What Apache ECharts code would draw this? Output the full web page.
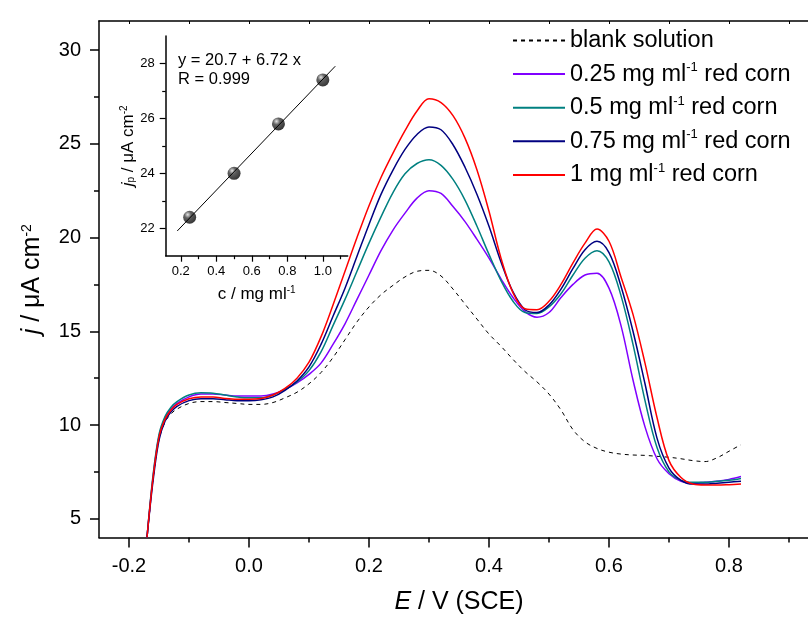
<!DOCTYPE html>
<html>
<head>
<meta charset="utf-8">
<script src="https://cdn.jsdelivr.net/npm/echarts@6/dist/echarts.min.js"></script>
<style>
  html, body { margin: 0; padding: 0; background: #fff; }
  #chart { width: 808px; height: 618px; }
</style>
</head>
<body>
<div id="chart"></div>
<script>
// potential (V vs SCE)
const potential = [-0.17, -0.16, -0.15, -0.14, -0.13, -0.12, -0.10, -0.08, -0.06, -0.04, -0.02, 0.00,
  0.02, 0.04, 0.06, 0.08, 0.10, 0.12, 0.14, 0.16, 0.18, 0.20, 0.22, 0.24, 0.26, 0.28, 0.30, 0.32,
  0.34, 0.36, 0.38, 0.40, 0.42, 0.44, 0.46, 0.48, 0.50, 0.52, 0.54, 0.56, 0.58, 0.60, 0.62, 0.64,
  0.66, 0.68, 0.70, 0.72, 0.74, 0.76, 0.78, 0.80, 0.82]

// current density j / uA cm-2
const blank = [4.0, 7.0, 9.2, 10.15, 10.6, 10.85, 11.15, 11.25, 11.25, 11.2, 11.15, 11.1,
  11.1, 11.2, 11.45, 11.75, 12.2, 12.8, 13.6, 14.55, 15.5, 16.3, 16.95, 17.45, 17.9, 18.2, 18.25, 17.95,
  17.25, 16.45, 15.65, 14.85, 14.2, 13.5, 12.85, 12.3, 11.65, 10.8, 9.75, 9.1, 8.75, 8.55, 8.45, 8.4,
  8.38, 8.33, 8.28, 8.2, 8.1, 8.05, 8.25, 8.6, 8.95]
const corn025 = [4.0, 7.2, 9.4, 10.35, 10.85, 11.15, 11.5, 11.65, 11.65, 11.6, 11.55, 11.55,
  11.55, 11.65, 11.9, 12.25, 12.7, 13.3, 14.3, 15.4, 16.7, 18.0, 19.3, 20.4, 21.3, 22.1, 22.5, 22.35,
  21.65, 20.85, 19.9, 18.9, 17.8, 16.8, 16.05, 15.75, 16.0, 16.8, 17.5, 18.0, 18.1, 17.3, 15.3, 12.4,
  9.9, 8.2, 7.4, 7.0, 6.9, 6.95, 7.0, 7.1, 7.25]
const corn05 = [4.0, 7.3, 9.5, 10.45, 10.95, 11.25, 11.6, 11.72, 11.7, 11.6, 11.5, 11.45,
  11.45, 11.6, 11.9, 12.3, 12.9, 13.9, 15.3, 16.7, 18.2, 19.7, 21.1, 22.4, 23.4, 23.95, 24.15, 23.85,
  23.1, 22.0, 20.6, 19.1, 17.7, 16.6, 16.0, 15.95, 16.3, 17.0, 18.0, 18.9, 19.3, 18.7, 16.9, 14.3,
  11.3, 8.8, 7.5, 7.05, 6.95, 6.95, 7.0, 7.05, 7.15]
const corn075 = [4.0, 7.0, 9.2, 10.2, 10.7, 11.0, 11.3, 11.4, 11.4, 11.35, 11.3, 11.3,
  11.35, 11.5, 11.85, 12.35, 13.1, 14.3, 15.8, 17.3, 19.0, 20.7, 22.3, 23.6, 24.7, 25.5, 25.9, 25.75,
  24.95, 23.75, 22.3, 20.6, 18.7, 17.1, 16.15, 16.0, 16.4, 17.25, 18.35, 19.35, 19.8, 19.2, 17.4, 15.0,
  12.2, 9.3, 7.7, 7.05, 6.85, 6.85, 6.9, 6.95, 7.0]
const corn1 = [4.0, 7.15, 9.35, 10.3, 10.8, 11.1, 11.4, 11.5, 11.5, 11.42, 11.38, 11.38,
  11.42, 11.6, 11.95, 12.5, 13.35, 14.7, 16.4, 18.2, 20.0, 21.7, 23.2, 24.5, 25.7, 26.75, 27.4, 27.2,
  26.5, 25.3, 23.6, 21.4, 18.9, 17.05, 16.2, 16.15, 16.6, 17.5, 18.65, 19.7, 20.45, 19.8, 17.9, 15.9,
  13.3, 10.4, 8.1, 7.2, 6.85, 6.8, 6.8, 6.82, 6.85]

const seriesNames = ['blank solution', '0.25 mg ml-1 red corn', '0.5 mg ml-1 red corn',
  '0.75 mg ml-1 red corn', '1 mg ml-1 red corn']
const seriesColors = ['#000000', '#8000ff', '#008080', '#000080', '#ff0000']
const seriesValues = [blank, corn025, corn05, corn075, corn1]

// main axes ticks
const xMajor = [-0.2, 0.0, 0.2, 0.4, 0.6, 0.8]
const xMinor = [-0.1, 0.1, 0.3, 0.5, 0.7, 0.9]
const yMajor = [5, 10, 15, 20, 25, 30]
const yMinor = [7.5, 12.5, 17.5, 22.5, 27.5]

// inset: peak current vs concentration
const insetConc = [0.25, 0.5, 0.75, 1.0]
const insetPeak = [22.4, 24.0, 25.8, 27.4]
const fitConc = [0.18, 1.07]
const fitPeak = [21.9, 27.9]
const insetXMajor = [0.2, 0.4, 0.6, 0.8, 1.0]
const insetXMinor = [0.3, 0.5, 0.7, 0.9, 1.1]
const insetYMajor = [22, 24, 26, 28]
const insetYMinor = [23, 25, 27]

const FONT = "'Liberation Sans', Arial, sans-serif"
const axisLine = { show: true, onZero: false, lineStyle: { color: '#000', width: 1.5 } }
const noLine = { show: false, onZero: false }

let myChart = echarts.init(document.getElementById('chart'), null, { renderer: 'canvas' })

let lineSeries = seriesValues.map((vals, i) => ({
  name: seriesNames[i],
  type: 'line',
  xAxisIndex: 0,
  yAxisIndex: 0,
  symbol: 'none',
  smooth: 0.35,
  lineStyle: {
    color: seriesColors[i],
    width: i === 0 ? 1 : 1.5,
    type: i === 0 ? [4, 4] : 'solid'
  },
  itemStyle: { color: seriesColors[i] },
  data: potential.map((e, k) => [e, vals[k]])
}))

myChart.setOption({
  animation: false,
  textStyle: { fontFamily: FONT, color: '#000' },
  grid: [
    { left: 99, top: 21, width: 720, height: 516.5, containLabel: false, outerBoundsMode: 'none' },
    { left: 165.7, top: 36, width: 182, height: 219.7, containLabel: false, outerBoundsMode: 'none' }
  ],
  legend: {
    data: seriesNames,
    orient: 'vertical',
    left: 512,
    top: 27.5,
    padding: 0,
    itemWidth: 52,
    itemHeight: 14,
    itemGap: 7.6,
    itemStyle: { opacity: 0 },
    formatter: name => name.replace('ml-1', 'ml{s|-1}'),
    textStyle: {
      fontFamily: FONT, fontSize: 23.5, color: '#000', lineHeight: 26,
      rich: { s: { fontFamily: FONT, fontSize: 13, verticalAlign: 'top', lineHeight: 14, color: '#000' } }
    }
  },
  graphic: [{
    type: 'text',
    left: 178,
    top: 51,
    style: { text: 'y = 20.7 + 6.72 x\nR = 0.999', font: '16.5px ' + FONT, lineHeight: 19, fill: '#000' }
  }],
  xAxis: [
    {
      gridIndex: 0, type: 'value', min: -0.25, max: 0.95, position: 'bottom',
      axisLine: axisLine, splitLine: { show: false },
      axisTick: { customValues: xMajor, length: 10, lineStyle: { color: '#000', width: 1.5 } },
      axisLabel: { customValues: xMajor, formatter: v => v.toFixed(1), fontSize: 20, margin: 19, color: '#000', fontFamily: FONT },
      name: '{i|E} / V (SCE)', nameLocation: 'middle', nameGap: 52,
      nameTextStyle: {
        fontSize: 25, fontFamily: FONT, color: '#000',
        rich: { i: { fontSize: 25, fontFamily: FONT, fontStyle: 'italic', color: '#000' } }
      }
    },
    {
      gridIndex: 0, type: 'value', min: -0.25, max: 0.95, position: 'bottom',
      axisLine: noLine, splitLine: { show: false }, axisLabel: { show: false },
      axisTick: { customValues: xMinor, length: 5, lineStyle: { color: '#000', width: 1.5 } }
    },
    {
      gridIndex: 0, type: 'value', min: -0.25, max: 0.95, position: 'top',
      axisLine: axisLine, splitLine: { show: false }, axisLabel: { show: false },
      axisTick: { customValues: xMajor.concat(xMinor), inside: true, length: 3, lineStyle: { color: '#000', width: 1 } }
    },
    {
      gridIndex: 1, type: 'value', min: 0.115, max: 1.14, position: 'bottom',
      axisLine: axisLine, splitLine: { show: false },
      axisTick: { customValues: insetXMajor, length: 6, lineStyle: { color: '#000', width: 1.2 } },
      axisLabel: { customValues: insetXMajor, formatter: v => v.toFixed(1), fontSize: 13, margin: 9, color: '#000', fontFamily: FONT },
      name: 'c / mg ml{s|-1}', nameLocation: 'middle', nameGap: 30,
      nameTextStyle: {
        fontSize: 17, fontFamily: FONT, color: '#000',
        rich: { s: { fontSize: 10, fontFamily: FONT, verticalAlign: 'top', lineHeight: 10, color: '#000' } }
      }
    },
    {
      gridIndex: 1, type: 'value', min: 0.115, max: 1.14, position: 'bottom',
      axisLine: noLine, splitLine: { show: false }, axisLabel: { show: false },
      axisTick: { customValues: insetXMinor, length: 3.5, lineStyle: { color: '#000', width: 1.2 } }
    }
  ],
  yAxis: [
    {
      gridIndex: 0, type: 'value', min: 4, max: 31.55, position: 'left',
      axisLine: axisLine, splitLine: { show: false },
      axisTick: { customValues: yMajor, length: 9, lineStyle: { color: '#000', width: 1.5 } },
      axisLabel: { customValues: yMajor, fontSize: 20, margin: 18, color: '#000', fontFamily: FONT },
      name: '{i|j} / μA cm{s|-2}', nameLocation: 'middle', nameGap: 54,
      nameTextStyle: {
        fontSize: 25, fontFamily: FONT, color: '#000',
        rich: {
          i: { fontSize: 25, fontFamily: FONT, fontStyle: 'italic', color: '#000' },
          s: { fontSize: 14, fontFamily: FONT, verticalAlign: 'top', lineHeight: 14, color: '#000' }
        }
      }
    },
    {
      gridIndex: 0, type: 'value', min: 4, max: 31.55, position: 'left',
      axisLine: noLine, splitLine: { show: false }, axisLabel: { show: false },
      axisTick: { customValues: yMinor, length: 5, lineStyle: { color: '#000', width: 1.5 } }
    },
    {
      gridIndex: 1, type: 'value', min: 21, max: 29, position: 'left',
      axisLine: axisLine, splitLine: { show: false },
      axisTick: { customValues: insetYMajor, length: 6, lineStyle: { color: '#000', width: 1.2 } },
      axisLabel: { customValues: insetYMajor, fontSize: 13, margin: 11, color: '#000', fontFamily: FONT },
      name: '{i|j}{b|p} / μA cm{s|-2}', nameLocation: 'middle', nameGap: 27,
      nameTextStyle: {
        fontSize: 17, fontFamily: FONT, color: '#000',
        rich: {
          i: { fontSize: 17, fontFamily: FONT, fontStyle: 'italic', color: '#000' },
          b: { fontSize: 10, fontFamily: FONT, verticalAlign: 'bottom', lineHeight: 10, color: '#000' },
          s: { fontSize: 10, fontFamily: FONT, verticalAlign: 'top', lineHeight: 10, color: '#000' }
        }
      }
    },
    {
      gridIndex: 1, type: 'value', min: 21, max: 29, position: 'left',
      axisLine: noLine, splitLine: { show: false }, axisLabel: { show: false },
      axisTick: { customValues: insetYMinor, length: 3.5, lineStyle: { color: '#000', width: 1.2 } }
    }
  ],
  series: lineSeries.concat([
    {
      name: 'fit',
      type: 'line',
      xAxisIndex: 3,
      yAxisIndex: 2,
      symbol: 'none',
      lineStyle: { color: '#000', width: 1 },
      data: fitConc.map((c, k) => [c, fitPeak[k]])
    },
    {
      name: 'peak',
      type: 'scatter',
      xAxisIndex: 3,
      yAxisIndex: 2,
      symbolSize: 13,
      itemStyle: {
        color: new echarts.graphic.RadialGradient(0.35, 0.3, 0.75, [
          { offset: 0, color: '#e0e0e0' },
          { offset: 0.35, color: '#3a3a3a' },
          { offset: 1, color: '#000' }
        ])
      },
      data: insetConc.map((c, k) => [c, insetPeak[k]])
    }
  ])
})
</script>
</body>
</html>
